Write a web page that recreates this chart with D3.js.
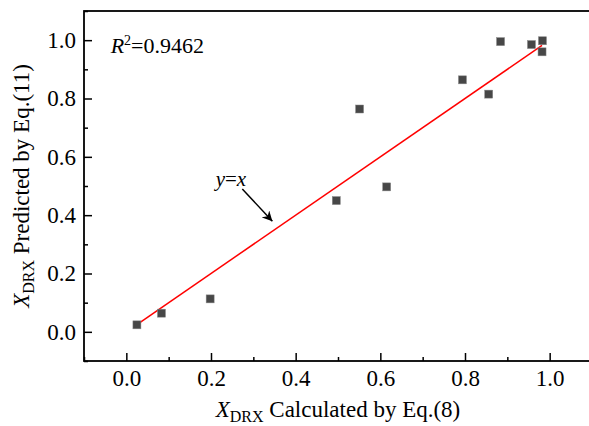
<!DOCTYPE html>
<html>
<head>
<meta charset="utf-8">
<script src="https://cdn.jsdelivr.net/npm/d3@7"></script>
<style>
  html, body { margin: 0; padding: 0; background: #fff; }
  svg { display: block; }
</style>
</head>
<body>
<div id="chart"></div>
<script>
// ============================================================
//  DATA
// ============================================================

// X_DRX calculated by Eq.(8)
const xCalculated = [0.025, 0.083, 0.198, 0.496, 0.551, 0.615, 0.794, 0.856, 0.884, 0.957, 0.983, 0.982];
// X_DRX predicted by Eq.(11)
const yPredicted  = [0.024, 0.064, 0.113, 0.450, 0.764, 0.497, 0.864, 0.815, 0.995, 0.985, 0.998, 0.960];

// y = x reference line end points
const fitLineX = [0.025, 0.982];

const majorTicks = [0.0, 0.2, 0.4, 0.6, 0.8, 1.0];
const minorTicks = [-0.1, 0.1, 0.3, 0.5, 0.7, 0.9, 1.1];

const rSquaredText = "0.9462";

// ============================================================
//  CONFIG
// ============================================================

const CONFIG = {
    WIDTH: 589,
    HEIGHT: 426,
    PLOT: { LEFT: 84, TOP: 11, RIGHT: 592, BOTTOM: 361 },
    DOMAIN: [-0.1, 1.1],
    FONT: '"Liberation Serif", "Times New Roman", Times, serif',
    FONT_SIZE: 23,
    SUB_SIZE: 16,
    MAJOR_TICK: 8,
    MINOR_TICK: 4,
    FRAME_WIDTH: 1.8,
    MARKER_SIZE: 8,
    MARKER_COLOR: "#474747",
    LINE_COLOR: "#ff0000",
};

const svg = d3.select("#chart").append("svg")
    .attr("width", CONFIG.WIDTH)
    .attr("height", CONFIG.HEIGHT)
    .style("font-family", CONFIG.FONT);

svg.append("rect")
    .attr("width", CONFIG.WIDTH)
    .attr("height", CONFIG.HEIGHT)
    .attr("fill", "#fff");

// --- Scales ---
const x = d3.scaleLinear()
    .domain(CONFIG.DOMAIN)
    .range([CONFIG.PLOT.LEFT, CONFIG.PLOT.RIGHT]);

const y = d3.scaleLinear()
    .domain(CONFIG.DOMAIN)
    .range([CONFIG.PLOT.BOTTOM, CONFIG.PLOT.TOP]);

const fmt = d3.format(".1f");

// --- Axes (ticks point inward) ---
const styleAxis = g => {
    g.attr("font-family", null).attr("font-size", null);
    g.select(".domain").remove();
    g.selectAll(".tick line").attr("stroke", "#000").attr("stroke-width", 1.5);
    g.selectAll(".tick text")
        .style("font-family", CONFIG.FONT)
        .style("font-size", CONFIG.FONT_SIZE + "px")
        .attr("fill", "#000");
};

svg.append("g")
    .attr("transform", `translate(0, ${CONFIG.PLOT.BOTTOM})`)
    .call(d3.axisBottom(x).tickValues(majorTicks).tickFormat(fmt)
        .tickSizeInner(-CONFIG.MAJOR_TICK).tickSizeOuter(0).tickPadding(9))
    .call(styleAxis);

svg.append("g")
    .attr("transform", `translate(0, ${CONFIG.PLOT.BOTTOM})`)
    .call(d3.axisBottom(x).tickValues(minorTicks).tickFormat("")
        .tickSizeInner(-CONFIG.MINOR_TICK).tickSizeOuter(0))
    .call(styleAxis);

svg.append("g")
    .attr("transform", `translate(${CONFIG.PLOT.LEFT}, 0)`)
    .call(d3.axisLeft(y).tickValues(majorTicks).tickFormat(fmt)
        .tickSizeInner(-CONFIG.MAJOR_TICK).tickSizeOuter(0).tickPadding(8))
    .call(styleAxis);

svg.append("g")
    .attr("transform", `translate(${CONFIG.PLOT.LEFT}, 0)`)
    .call(d3.axisLeft(y).tickValues(minorTicks).tickFormat("")
        .tickSizeInner(-CONFIG.MINOR_TICK).tickSizeOuter(0))
    .call(styleAxis);

// --- Frame ---
svg.append("rect")
    .attr("x", x(CONFIG.DOMAIN[0]))
    .attr("y", y(CONFIG.DOMAIN[1]))
    .attr("width", x(CONFIG.DOMAIN[1]) - x(CONFIG.DOMAIN[0]))
    .attr("height", y(CONFIG.DOMAIN[0]) - y(CONFIG.DOMAIN[1]))
    .attr("fill", "none")
    .attr("stroke", "#000")
    .attr("stroke-width", CONFIG.FRAME_WIDTH);

// --- y = x line ---
svg.append("line")
    .attr("x1", x(fitLineX[0]))
    .attr("y1", y(fitLineX[0]))
    .attr("x2", x(fitLineX[1]))
    .attr("y2", y(fitLineX[1]))
    .attr("stroke", CONFIG.LINE_COLOR)
    .attr("stroke-width", 1.5);

// --- Points ---
const points = xCalculated.map((v, i) => ({ x: v, y: yPredicted[i] }));
const s = CONFIG.MARKER_SIZE;

svg.append("g")
    .selectAll("rect")
    .data(points)
    .join("rect")
    .attr("x", d => x(d.x) - s / 2)
    .attr("y", d => y(d.y) - s / 2)
    .attr("width", s)
    .attr("height", s)
    .attr("fill", CONFIG.MARKER_COLOR)
    .attr("stroke", "#888")
    .attr("stroke-width", 0.5);

// --- Annotations ---
svg.append("defs").append("marker")
    .attr("id", "arrow")
    .attr("viewBox", "0 0 10 10")
    .attr("refX", 10)
    .attr("refY", 5)
    .attr("markerWidth", 10)
    .attr("markerHeight", 10)
    .attr("markerUnits", "userSpaceOnUse")
    .attr("orient", "auto")
    .append("path")
    .attr("d", "M0,0 L10,5 L0,10 L3,5 Z")
    .attr("fill", "#000");

svg.append("line")
    .attr("x1", x(0.274))
    .attr("y1", y(0.490))
    .attr("x2", x(0.345))
    .attr("y2", y(0.379))
    .attr("stroke", "#000")
    .attr("stroke-width", 1.5)
    .attr("marker-end", "url(#arrow)");

const yx = svg.append("text")
    .attr("x", x(0.211))
    .attr("y", y(0.501))
    .style("font-size", "21px");
yx.append("tspan").style("font-style", "italic").text("y");
yx.append("tspan").text("=");
yx.append("tspan").style("font-style", "italic").text("x");

const r2 = svg.append("text")
    .attr("x", x(-0.037))
    .attr("y", y(0.957))
    .style("font-size", (CONFIG.FONT_SIZE - 1) + "px");
r2.append("tspan").style("font-style", "italic").text("R");
r2.append("tspan").style("font-size", "14px").attr("dy", -8).text("2");
r2.append("tspan").attr("dy", 8).text("=" + rSquaredText);

// --- Axis titles ---
const xTitle = svg.append("text")
    .attr("x", (CONFIG.PLOT.LEFT + CONFIG.PLOT.RIGHT) / 2)
    .attr("y", 417)
    .attr("text-anchor", "middle")
    .style("font-size", CONFIG.FONT_SIZE + "px");
xTitle.append("tspan").style("font-style", "italic").text("X");
xTitle.append("tspan").style("font-size", CONFIG.SUB_SIZE + "px").attr("dy", 5).text("DRX");
xTitle.append("tspan").attr("dy", -5).text(" Calculated by Eq.(8)");

const yTitle = svg.append("text")
    .attr("transform", `translate(29, ${(CONFIG.PLOT.TOP + CONFIG.PLOT.BOTTOM) / 2}) rotate(-90)`)
    .attr("text-anchor", "middle")
    .style("font-size", CONFIG.FONT_SIZE + "px");
yTitle.append("tspan").style("font-style", "italic").text("X");
yTitle.append("tspan").style("font-size", CONFIG.SUB_SIZE + "px").attr("dy", 5).text("DRX");
yTitle.append("tspan").attr("dy", -5).text(" Predicted by Eq.(11)");
</script>
</body>
</html>
